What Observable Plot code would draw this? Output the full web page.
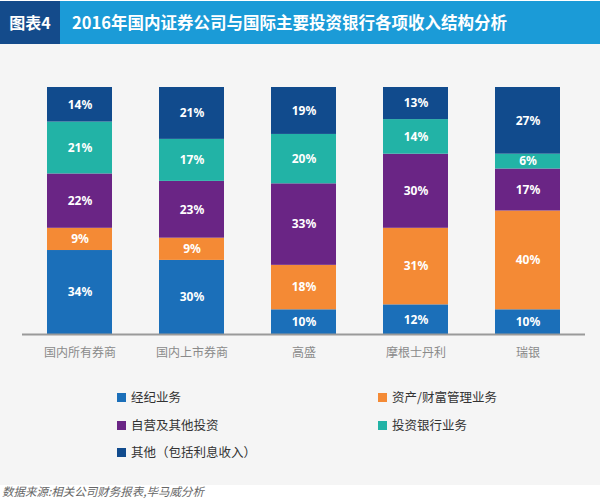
<!DOCTYPE html>
<html>
<head>
<meta charset="utf-8">
<script src="https://cdn.jsdelivr.net/npm/d3@7"></script>
<script src="https://cdn.jsdelivr.net/npm/@observablehq/plot@0.6"></script>
<style>
  html, body { margin: 0; padding: 0; background: #ffffff; }
  body { width: 600px; height: 499px; overflow: hidden; font-family: "Noto Sans CJK SC", "Noto Sans", sans-serif; }
  .titlebar { position: absolute; left: 0; top: 1px; width: 600px; height: 43px; background: #1b9bd7; }
  .titlebox { position: absolute; left: 0; top: 0; width: 60px; height: 43px; background: #144b8b; color: #fff;
    font-weight: bold; font-size: 16px; line-height: 43px; text-align: center; }
  .titletext { position: absolute; left: 72px; top: 0; height: 43px; line-height: 43px; color: #fff; font-weight: bold; font-size: 16.5px; }
  #chart { position: absolute; left: 0; top: 44px; width: 600px; height: 330px; background: #f5f5f5; }
  .legend { position: absolute; left: 0; top: 374px; width: 600px; height: 111px; background: #f5f5f5; }
  .item { position: absolute; font-size: 12.5px; color: #333; height: 16px; line-height: 16px; white-space: nowrap; }
  .sw { display: inline-block; width: 9px; height: 9px; margin-right: 5px; vertical-align: 0px; }
  .source { position: absolute; left: 2px; top: 483px; font-size: 11.5px; font-style: italic; color: #666; }
</style>
</head>
<body>
<div class="titlebar"><div class="titlebox">图表4</div><div class="titletext">2016年国内证券公司与国际主要投资银行各项收入结构分析</div></div>
<div id="chart"></div>
<div class="legend" id="legend"></div>
<div class="source">数据来源:相关公司财务报表,毕马威分析</div>
<script>
const categories = ["国内所有券商", "国内上市券商", "高盛", "摩根士丹利", "瑞银"];
const seriesNames = ["经纪业务", "资产/财富管理业务", "自营及其他投资", "投资银行业务", "其他（包括利息收入）"];
const seriesColors = ["#1b6fb9", "#f48a35", "#6a2585", "#22b3a6", "#114b8d"];
const brokerage = [34, 30, 10, 12, 10];
const assetWealth = [9, 9, 18, 31, 40];
const proprietary = [22, 23, 33, 30, 17];
const investmentBanking = [21, 17, 20, 14, 6];
const other = [14, 21, 19, 13, 27];

const seriesValues = [brokerage, assetWealth, proprietary, investmentBanking, other];
const data = [];
seriesNames.forEach((s, si) => {
  categories.forEach((c, ci) => {
    data.push({category: c, series: s, value: seriesValues[si][ci]});
  });
});

const chart = Plot.plot({
  width: 600,
  height: 330,
  marginTop: 43,
  marginBottom: 40,
  marginLeft: 22,
  marginRight: 15,
  style: {background: "transparent", fontFamily: "'Noto Sans CJK SC', 'Noto Sans', sans-serif"},
  x: {domain: categories, paddingInner: 0.424, paddingOuter: 0.212, label: null, tickSize: 0, tickPadding: 14},
  y: {domain: [0, 100], axis: null},
  color: {domain: seriesNames, range: seriesColors},
  marks: [
    Plot.barY(data, Plot.stackY({x: "category", y: "value", fill: "series", order: seriesNames})),
    Plot.text(data, Plot.stackY({x: "category", y: "value", z: "series", order: seriesNames,
      text: d => d.value + "%", fill: "white", fontWeight: "bold", fontSize: 12,
      fontFamily: "'Noto Sans', 'Noto Sans CJK SC', sans-serif"})),
    Plot.ruleY([0], {stroke: "#9a9a9a", strokeWidth: 2})
  ]
});
chart.querySelectorAll("g[aria-label='x-axis tick label'] text, g[aria-label='x-axis tick label']").forEach(el => {
  el.setAttribute("fill", "#8a8a8a");
  el.style.fontSize = "12px";
});
document.getElementById("chart").appendChild(chart);

const legend = document.getElementById("legend");
const pos = [[117, 15], [378, 15], [117, 43], [378, 43], [117, 70]];
seriesNames.forEach((s, i) => {
  const it = document.createElement("div");
  it.className = "item";
  it.style.left = pos[i][0] + "px";
  it.style.top = pos[i][1] + "px";
  it.innerHTML = `<span class="sw" style="background:${seriesColors[i]}"></span>${s}`;
  legend.appendChild(it);
});
</script>
</body>
</html>
